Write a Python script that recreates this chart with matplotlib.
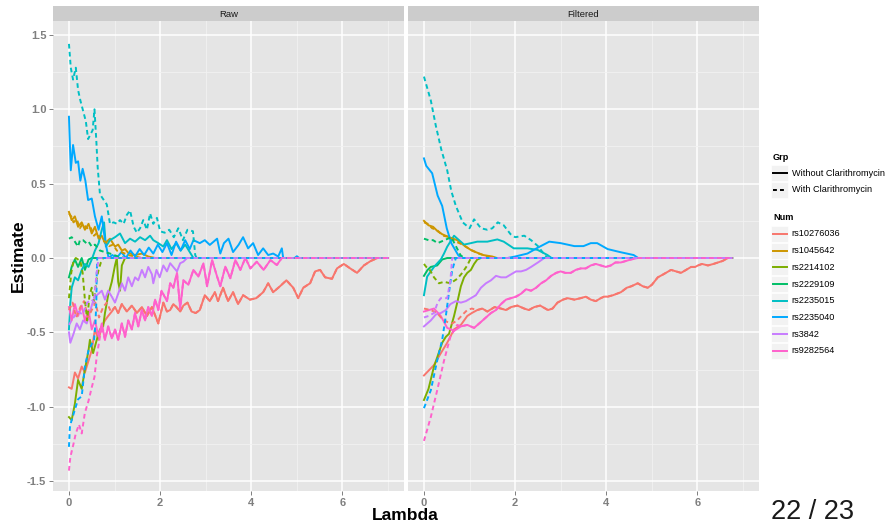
import matplotlib
matplotlib.use("Agg")
import matplotlib.pyplot as plt
from matplotlib.lines import Line2D
from matplotlib.patches import Rectangle

# ---------------- data ----------------
nums = ["rs10276036", "rs1045642", "rs2214102", "rs2229109",
        "rs2235015", "rs2235040", "rs3842", "rs9282564"]
num_colors = ["#F8766D", "#CD9600", "#7CAE00", "#00BE67",
              "#00BFC4", "#00A9FF", "#C77CFF", "#FF61CC"]
groups = ["Without Clarithromycin", "With Clarithromycin"]
panels = ["Raw", "Filtered"]
raw_lambda_max = 7.0
filt_lambda_max = 6.76
y_ticks = [-1.5, -1.0, -0.5, 0.0, 0.5, 1.0, 1.5]
y_tick_labels = ["-1.5", "-1.0", "-0.5", "0.0", "0.5", "1.0", "1.5"]
x_ticks = [0, 2, 4, 6]
x_tick_labels = ["0", "2", "4", "6"]

# ---- Raw panel ----
raw_rs10276036_without = [(0, -0.87), (0.06, -0.88), (0.13, -0.77), (0.2, -0.81), (0.28, -0.73), (0.35, -0.77),
    (0.43, -0.69), (0.5, -0.62), (0.57, -0.48), (0.65, -0.55), (0.72, -0.46), (0.79, -0.42), (0.86, -0.39),
    (0.94, -0.36), (1.01, -0.33), (1.08, -0.37), (1.16, -0.31), (1.27, -0.36), (1.38, -0.32), (1.49, -0.37),
    (1.6, -0.33), (1.71, -0.39), (1.82, -0.33), (1.96, -0.44), (2.07, -0.30), (2.15, -0.36), (2.22, -0.35),
    (2.29, -0.31), (2.36, -0.33), (2.44, -0.36), (2.51, -0.32), (2.6, -0.30), (2.69, -0.36), (2.78, -0.37),
    (2.87, -0.35), (2.98, -0.25), (3.09, -0.29), (3.2, -0.23), (3.27, -0.29), (3.38, -0.20), (3.49, -0.29),
    (3.6, -0.23), (3.71, -0.31), (3.82, -0.25), (3.97, -0.28), (4.11, -0.27), (4.26, -0.23), (4.37, -0.17),
    (4.48, -0.23), (4.63, -0.19), (4.77, -0.15), (4.92, -0.20), (5.03, -0.27), (5.14, -0.20), (5.29, -0.17),
    (5.4, -0.09), (5.51, -0.08), (5.62, -0.13), (5.77, -0.14), (5.88, -0.07), (6.03, -0.04), (6.17, -0.07),
    (6.32, -0.10), (6.47, -0.05), (6.62, -0.02), (6.77, 0.0)]
raw_rs10276036_with_head = [(0, -0.35), (0.08, -0.30), (0.16, -0.40), (0.25, -0.33), (0.33, -0.29), (0.42, -0.40),
    (0.5, -0.35), (0.58, -0.30), (0.66, -0.40), (0.75, -0.33), (0.83, -0.30), (0.92, -0.36), (1.01, -0.33)]
raw_rs1045642_without = [(0, 0.31), (0.06, 0.255), (0.13, 0.28), (0.2, 0.21), (0.28, 0.24), (0.35, 0.19),
    (0.43, 0.23), (0.5, 0.165), (0.57, 0.21), (0.65, 0.13), (0.72, 0.15), (0.79, 0.10), (0.9, 0.13),
    (1.01, 0.077), (1.08, 0.09), (1.16, 0.05), (1.23, 0.06), (1.3, 0.035), (1.45, 0.02), (1.6, 0.03),
    (1.74, 0.01), (1.89, 0.0)]
raw_rs1045642_with = [(0, 0.30), (0.05, 0.28), (0.1, 0.24), (0.17, 0.26), (0.24, 0.20), (0.3, 0.23), (0.4, 0.20),
    (0.47, 0.21), (0.55, 0.15), (0.62, 0.17), (0.7, 0.12), (0.8, 0.11), (0.88, 0.08), (0.97, 0.09),
    (1.05, 0.05), (1.15, 0.04), (1.3, 0.02), (1.45, 0.01), (1.6, 0.0)]
raw_rs2214102_without = [(0, -1.07), (0.06, -1.09), (0.13, -0.98), (0.2, -0.82), (0.28, -0.88), (0.35, -0.75),
    (0.43, -0.62), (0.46, -0.55), (0.53, -0.64), (0.61, -0.55), (0.68, -0.48), (0.75, -0.46), (0.79, -0.37),
    (0.86, -0.25), (0.94, -0.16), (1.01, -0.05), (1.05, 0.0), (1.08, -0.16), (1.12, -0.22), (1.16, -0.05),
    (1.23, 0.0)]
raw_rs2214102_with = [(0, -0.27), (0.05, -0.10), (0.1, -0.02), (0.15, 0.0), (0.25, -0.02), (0.3, -0.10),
    (0.35, -0.28), (0.4, -0.42), (0.45, -0.25), (0.5, -0.20), (0.55, -0.30), (0.6, -0.15), (0.65, -0.08),
    (0.7, -0.03), (0.75, 0.0)]
raw_rs2229109_without = [(0, -0.13), (0.06, -0.06), (0.13, -0.01), (0.2, -0.06), (0.28, 0.0), (0.35, -0.08),
    (0.43, -0.01), (0.5, 0.0)]
raw_rs2229109_with = [(0, 0.13), (0.06, 0.14), (0.13, 0.11), (0.2, 0.077), (0.24, 0.12), (0.31, 0.12),
    (0.38, 0.10), (0.43, 0.11), (0.5, 0.077), (0.57, 0.09), (0.68, 0.05), (0.79, 0.04), (0.9, 0.03),
    (1.08, 0.01), (1.23, 0.0)]
raw_rs2235015_without = [(0, -0.48), (0.03, -0.30), (0.06, -0.20), (0.13, -0.13), (0.2, -0.15), (0.28, -0.08),
    (0.35, -0.04), (0.43, -0.06), (0.5, -0.01), (0.57, 0.05), (0.65, 0.10), (0.72, 0.19), (0.77, 0.24),
    (0.81, 0.077), (0.9, 0.12), (1.01, 0.14), (1.12, 0.165), (1.23, 0.10), (1.34, 0.13), (1.45, 0.11),
    (1.56, 0.14), (1.67, 0.12), (1.78, 0.15), (1.85, 0.12), (1.96, 0.10), (2.07, 0.077), (2.15, 0.12),
    (2.25, 0.06), (2.35, 0.10), (2.45, 0.05), (2.55, 0.09), (2.65, 0.04), (2.73, 0.0)]
raw_rs2235015_with = [(0, 1.44), (0.04, 1.28), (0.09, 1.20), (0.15, 1.28), (0.2, 1.13), (0.25, 1.06),
    (0.31, 0.99), (0.37, 0.92), (0.42, 0.80), (0.47, 0.83), (0.52, 0.86), (0.56, 1.0), (0.6, 0.79),
    (0.63, 0.61), (0.68, 0.43), (0.72, 0.41), (0.83, 0.36), (0.9, 0.23), (0.98, 0.24), (1.05, 0.23),
    (1.12, 0.255), (1.2, 0.23), (1.27, 0.29), (1.34, 0.32), (1.42, 0.21), (1.49, 0.17), (1.56, 0.20),
    (1.63, 0.255), (1.71, 0.19), (1.78, 0.30), (1.85, 0.23), (1.93, 0.27), (2.0, 0.18), (2.1, 0.17),
    (2.2, 0.19), (2.3, 0.14), (2.4, 0.20), (2.5, 0.12), (2.6, 0.19), (2.72, 0.18), (2.77, 0.02), (2.8, 0.0)]
raw_rs2235040_without = [(0, 0.95), (0.04, 0.59), (0.09, 0.76), (0.15, 0.64), (0.2, 0.65), (0.25, 0.52),
    (0.3, 0.60), (0.36, 0.52), (0.42, 0.39), (0.5, 0.40), (0.57, 0.28), (0.65, 0.19), (0.72, 0.28),
    (0.79, 0.12), (0.87, 0.0), (0.95, 0.02), (1.05, 0.0), (1.15, 0.04), (1.25, 0.0), (1.35, 0.05),
    (1.45, 0.01), (1.55, 0.06), (1.65, 0.02), (1.75, 0.07), (1.85, 0.03), (1.95, 0.09), (2.05, 0.04),
    (2.15, 0.10), (2.25, 0.02), (2.35, 0.11), (2.45, 0.05), (2.55, 0.12), (2.65, 0.06), (2.73, 0.12),
    (2.87, 0.10), (2.98, 0.12), (3.09, 0.088), (3.25, 0.13), (3.32, 0.03), (3.4, 0.10), (3.5, 0.13),
    (3.6, 0.04), (3.72, 0.088), (3.82, 0.14), (3.93, 0.065), (4.04, 0.10), (4.15, 0.02), (4.26, 0.065),
    (4.37, 0.02), (4.48, 0.03), (4.59, 0.01), (4.67, 0.065), (4.7, 0.0), (4.95, 0.0), (5.0, 0.012), (5.05, 0.0)]
raw_rs2235040_with = [(0, -1.27), (0.02, -1.14), (0.05, -1.10), (0.1, -1.05), (0.2, -0.95), (0.28, -0.93),
    (0.35, -0.73), (0.43, -0.62), (0.5, -0.58), (0.55, -0.55), (0.58, -0.45), (0.6, -0.30), (0.61, -0.10),
    (0.62, 0.0)]
raw_rs3842_without = [(0, -0.50), (0.03, -0.57), (0.1, -0.51), (0.17, -0.44), (0.24, -0.48), (0.31, -0.42),
    (0.39, -0.44), (0.46, -0.36), (0.52, -0.30), (0.57, -0.26), (0.65, -0.24), (0.72, -0.22), (0.79, -0.28),
    (0.86, -0.22), (0.94, -0.26), (1.01, -0.30), (1.08, -0.24), (1.16, -0.17), (1.23, -0.22), (1.3, -0.13),
    (1.38, -0.19), (1.45, -0.13), (1.52, -0.15), (1.6, -0.08), (1.67, -0.13), (1.74, -0.06), (1.82, -0.11),
    (1.85, -0.17), (1.92, -0.08), (1.99, -0.13), (2.07, -0.05), (2.15, -0.09), (2.22, -0.035), (2.37, -0.09),
    (2.44, -0.035), (2.51, -0.025), (2.59, 0.0)]
raw_rs3842_with = [(0, -0.45), (0.1, -0.40), (0.2, -0.36), (0.3, -0.38), (0.4, -0.30), (0.5, -0.28),
    (0.55, -0.30), (0.6, -0.12), (0.65, 0.0)]
raw_rs9282564_without = [(0, -0.33), (0.06, -0.42), (0.13, -0.31), (0.2, -0.39), (0.28, -0.32), (0.35, -0.42),
    (0.43, -0.35), (0.5, -0.48), (0.57, -0.42), (0.65, -0.53), (0.72, -0.44), (0.79, -0.55), (0.86, -0.46),
    (0.94, -0.54), (1.01, -0.48), (1.08, -0.55), (1.16, -0.44), (1.23, -0.53), (1.3, -0.42), (1.38, -0.48),
    (1.45, -0.37), (1.52, -0.46), (1.6, -0.35), (1.67, -0.42), (1.74, -0.33), (1.82, -0.39), (1.89, -0.28),
    (1.96, -0.35), (2.03, -0.22), (2.15, -0.29), (2.22, -0.17), (2.29, -0.20), (2.37, -0.10), (2.44, -0.34),
    (2.51, -0.15), (2.62, -0.18), (2.73, -0.08), (2.84, -0.125), (2.95, -0.036), (3.03, -0.19), (3.14, -0.014),
    (3.25, -0.125), (3.32, -0.19), (3.43, -0.058), (3.54, -0.136), (3.65, -0.014), (3.76, -0.08), (3.87, 0.0),
    (3.98, -0.07), (4.12, -0.025), (4.27, -0.08), (4.42, -0.014), (4.56, -0.047), (4.67, 0.0)]
raw_rs9282564_with_head = [(0, -1.43), (0.03, -1.34), (0.1, -1.25), (0.15, -1.18), (0.22, -1.12), (0.28, -1.18),
    (0.35, -1.04), (0.43, -0.96), (0.5, -0.87), (0.56, -0.80), (0.61, -0.66), (0.68, -0.53), (0.72, -0.46)]

# ---- Filtered panel ----
filt_rs10276036_without = [(0, -0.79), (0.22, -0.72), (0.37, -0.64), (0.51, -0.57), (0.66, -0.48), (0.81, -0.45),
    (0.95, -0.39), (1.05, -0.37), (1.17, -0.35), (1.28, -0.34), (1.39, -0.36), (1.55, -0.33), (1.69, -0.34),
    (1.8, -0.35), (1.91, -0.33), (2.05, -0.32), (2.2, -0.34), (2.3, -0.35), (2.42, -0.33), (2.55, -0.32),
    (2.72, -0.35), (2.82, -0.34), (2.93, -0.30), (3.05, -0.28), (3.15, -0.27), (3.3, -0.28), (3.44, -0.27),
    (3.55, -0.26), (3.66, -0.28), (3.77, -0.29), (3.88, -0.27), (3.95, -0.26), (4.03, -0.26), (4.15, -0.25),
    (4.32, -0.23), (4.45, -0.20), (4.55, -0.19), (4.69, -0.17), (4.8, -0.19), (4.91, -0.20), (5.0, -0.18),
    (5.13, -0.13), (5.25, -0.11), (5.42, -0.08), (5.53, -0.09), (5.64, -0.10), (5.75, -0.08), (5.86, -0.06),
    (5.95, -0.06), (6.01, -0.05), (6.1, -0.04), (6.23, -0.05), (6.35, -0.04), (6.45, -0.03), (6.55, -0.02),
    (6.67, 0.0)]
filt_rs10276036_with_head = [(0, -0.34), (0.15, -0.35), (0.29, -0.37), (0.4, -0.41), (0.51, -0.43), (0.62, -0.44),
    (0.73, -0.42), (0.85, -0.38), (0.95, -0.35), (1.05, -0.34), (1.17, -0.35)]
filt_rs1045642_without = [(0, 0.25), (0.1, 0.22), (0.2, 0.21), (0.3, 0.18), (0.4, 0.16), (0.55, 0.14),
    (0.73, 0.12), (0.9, 0.08), (1.05, 0.05), (1.3, 0.02), (1.5, 0.01), (1.6, 0.0)]
filt_rs1045642_with = [(0, 0.24), (0.08, 0.23), (0.18, 0.20), (0.28, 0.19), (0.42, 0.15), (0.58, 0.14),
    (0.7, 0.11), (0.85, 0.09), (1.0, 0.06), (1.2, 0.03), (1.4, 0.01), (1.55, 0.0)]
filt_rs2214102_without = [(0, -0.955), (0.1, -0.88), (0.22, -0.73), (0.3, -0.66), (0.4, -0.57), (0.48, -0.53),
    (0.55, -0.51), (0.66, -0.39), (0.73, -0.30), (0.81, -0.19), (0.88, -0.13), (0.95, -0.10), (1.03, -0.08),
    (1.1, -0.04), (1.17, -0.01), (1.25, 0.0)]
filt_rs2214102_with = [(0, -0.04), (0.05, -0.06), (0.11, -0.07), (0.22, -0.13), (0.33, -0.17), (0.44, -0.16),
    (0.58, -0.17), (0.73, -0.14), (0.84, -0.10), (0.95, -0.05), (1.03, 0.0)]
filt_rs2229109_without = [(0, -0.12), (0.08, -0.08), (0.15, -0.06), (0.29, -0.05), (0.4, -0.01), (0.51, 0.0)]
filt_rs2229109_with = [(0, 0.13), (0.1, 0.12), (0.2, 0.12), (0.3, 0.10), (0.45, 0.12), (0.6, 0.14),
    (0.7, 0.08), (0.8, 0.02), (0.88, 0.0)]
filt_rs2235015_without = [(0, -0.25), (0.07, -0.125), (0.22, -0.06), (0.37, -0.01), (0.44, 0.03), (0.51, 0.076),
    (0.66, 0.15), (0.77, 0.12), (0.88, 0.09), (1.03, 0.10), (1.17, 0.11), (1.39, 0.11), (1.61, 0.125),
    (1.75, 0.11), (1.97, 0.065), (2.27, 0.065), (2.49, 0.055), (2.71, 0.02), (2.8, 0.0)]
filt_rs2235015_with = [(0, 1.22), (0.15, 1.06), (0.26, 0.89), (0.38, 0.73), (0.51, 0.59), (0.6, 0.45),
    (0.7, 0.35), (0.85, 0.24), (1.0, 0.20), (1.1, 0.26), (1.25, 0.20), (1.39, 0.19), (1.5, 0.20), (1.62, 0.24),
    (1.75, 0.22), (1.9, 0.16), (2.0, 0.14), (2.2, 0.15), (2.35, 0.12), (2.5, 0.08), (2.65, 0.02), (2.72, 0.0)]
filt_rs2235040_without = [(0, 0.67), (0.05, 0.62), (0.18, 0.57), (0.3, 0.42), (0.4, 0.35), (0.5, 0.20),
    (0.6, 0.10), (0.75, 0.02), (0.82, 0.0), (1.5, 0.0), (1.83, 0.0), (2.0, 0.01), (2.27, 0.03), (2.5, 0.07),
    (2.75, 0.11), (3.0, 0.10), (3.3, 0.08), (3.5, 0.08), (3.66, 0.10), (3.8, 0.10), (4.03, 0.06), (4.3, 0.04),
    (4.6, 0.02), (4.7, 0.0)]
filt_rs2235040_with = [(0, -1.01), (0.15, -0.89), (0.29, -0.69), (0.4, -0.55), (0.48, -0.39), (0.55, -0.23),
    (0.62, -0.08), (0.7, 0.0)]
filt_rs3842_without = [(0, -0.46), (0.15, -0.42), (0.26, -0.38), (0.37, -0.37), (0.48, -0.35), (0.58, -0.31),
    (0.7, -0.29), (0.81, -0.30), (0.92, -0.29), (1.03, -0.27), (1.14, -0.25), (1.25, -0.20), (1.36, -0.17),
    (1.47, -0.15), (1.58, -0.12), (1.69, -0.13), (1.8, -0.13), (1.91, -0.11), (2.02, -0.09), (2.13, -0.09),
    (2.24, -0.08), (2.35, -0.06), (2.5, -0.03), (2.64, 0.0)]
filt_rs3842_with = [(0, -0.40), (0.1, -0.39), (0.22, -0.37), (0.3, -0.30), (0.37, -0.27), (0.51, -0.27),
    (0.58, -0.15), (0.62, 0.0)]
filt_rs9282564_without = [(0, -0.36), (0.22, -0.34), (0.37, -0.39), (0.51, -0.47), (0.66, -0.49), (0.81, -0.46),
    (0.95, -0.45), (1.1, -0.47), (1.25, -0.43), (1.47, -0.37), (1.58, -0.35), (1.69, -0.31), (1.8, -0.28),
    (1.91, -0.27), (2.02, -0.26), (2.13, -0.24), (2.24, -0.21), (2.35, -0.22), (2.46, -0.20), (2.57, -0.17),
    (2.68, -0.15), (2.79, -0.12), (2.9, -0.10), (3.0, -0.09), (3.1, -0.10), (3.22, -0.10), (3.33, -0.08),
    (3.44, -0.07), (3.55, -0.07), (3.66, -0.05), (3.77, -0.04), (3.88, -0.05), (3.99, -0.06), (4.1, -0.05),
    (4.2, -0.03), (4.32, -0.03), (4.43, -0.02), (4.54, -0.01), (4.69, 0.0)]
filt_rs9282564_with_head = [(0, -1.23), (0.15, -1.07), (0.29, -0.89), (0.44, -0.69), (0.58, -0.53),
    (0.73, -0.45), (0.81, -0.46)]


def join(head, tail):
    return head + [p for p in tail if p[0] > head[-1][0]]


raw_series = {
    ("Without Clarithromycin", "rs10276036"): raw_rs10276036_without,
    ("Without Clarithromycin", "rs1045642"): raw_rs1045642_without,
    ("Without Clarithromycin", "rs2214102"): raw_rs2214102_without,
    ("Without Clarithromycin", "rs2229109"): raw_rs2229109_without,
    ("Without Clarithromycin", "rs2235015"): raw_rs2235015_without,
    ("Without Clarithromycin", "rs2235040"): raw_rs2235040_without,
    ("Without Clarithromycin", "rs3842"): raw_rs3842_without,
    ("Without Clarithromycin", "rs9282564"): raw_rs9282564_without,
    ("With Clarithromycin", "rs10276036"): join(raw_rs10276036_with_head, raw_rs10276036_without),
    ("With Clarithromycin", "rs1045642"): raw_rs1045642_with,
    ("With Clarithromycin", "rs2214102"): raw_rs2214102_with,
    ("With Clarithromycin", "rs2229109"): raw_rs2229109_with,
    ("With Clarithromycin", "rs2235015"): raw_rs2235015_with,
    ("With Clarithromycin", "rs2235040"): raw_rs2235040_with,
    ("With Clarithromycin", "rs3842"): raw_rs3842_with,
    ("With Clarithromycin", "rs9282564"): join(raw_rs9282564_with_head, raw_rs9282564_without),
}
filt_series = {
    ("Without Clarithromycin", "rs10276036"): filt_rs10276036_without,
    ("Without Clarithromycin", "rs1045642"): filt_rs1045642_without,
    ("Without Clarithromycin", "rs2214102"): filt_rs2214102_without,
    ("Without Clarithromycin", "rs2229109"): filt_rs2229109_without,
    ("Without Clarithromycin", "rs2235015"): filt_rs2235015_without,
    ("Without Clarithromycin", "rs2235040"): filt_rs2235040_without,
    ("Without Clarithromycin", "rs3842"): filt_rs3842_without,
    ("Without Clarithromycin", "rs9282564"): filt_rs9282564_without,
    ("With Clarithromycin", "rs10276036"): join(filt_rs10276036_with_head, filt_rs10276036_without),
    ("With Clarithromycin", "rs1045642"): filt_rs1045642_with,
    ("With Clarithromycin", "rs2214102"): filt_rs2214102_with,
    ("With Clarithromycin", "rs2229109"): filt_rs2229109_with,
    ("With Clarithromycin", "rs2235015"): filt_rs2235015_with,
    ("With Clarithromycin", "rs2235040"): filt_rs2235040_with,
    ("With Clarithromycin", "rs3842"): filt_rs3842_with,
    ("With Clarithromycin", "rs9282564"): join(filt_rs9282564_with_head, filt_rs9282564_without),
}

# ---------------- figure ----------------
W, H = 886, 524
fig = plt.figure(figsize=(W / 100, H / 100), dpi=100)
fig.patch.set_facecolor("white")
SANS = ["Liberation Sans", "DejaVu Sans"]


def fx(px):
    return px / W


def fy(py):
    return 1 - py / H


panel_top, panel_bot = 21, 491
panel_lefts = [53, 408]
panel_w = 351
LW = 1.4
DASH = (2.4, 1.7)
TICK_COLOR = "#7F7F7F"

for pi, (pname, series, lmax) in enumerate(zip(panels, [raw_series, filt_series],
                                               [raw_lambda_max, filt_lambda_max])):
    left = panel_lefts[pi]
    ax = fig.add_axes([fx(left), fy(panel_bot), panel_w / W, (panel_bot - panel_top) / H])
    ax.set_facecolor("#E5E5E5")
    for s in ax.spines.values():
        s.set_visible(False)
    ax.set_xlim(-0.35, 7.35)
    ax.set_ylim(-1.567, 1.594)
    ax.set_xticks(x_ticks)
    ax.set_xticklabels(x_tick_labels)
    ax.set_xticks([1, 3, 5, 7], minor=True)
    ax.set_yticks(y_ticks)
    ax.set_yticklabels(y_tick_labels)
    ax.set_yticks([-1.25, -0.75, -0.25, 0.25, 0.75, 1.25], minor=True)
    ax.grid(which="minor", color="#F2F2F2", lw=0.6)
    ax.grid(which="major", color="white", lw=1.1)
    ax.set_axisbelow(True)
    ax.tick_params(which="minor", length=0)
    ax.tick_params(which="major", length=2.8, width=0.7, color=TICK_COLOR,
                   labelcolor=TICK_COLOR, labelsize=8, pad=2)
    for lab in ax.get_xticklabels() + ax.get_yticklabels():
        lab.set_fontweight("bold")
        lab.set_family(SANS)
    if pi == 1:
        ax.tick_params(axis="y", left=False, labelleft=False)

    for grp in groups:
        for num, col in zip(nums, num_colors):
            pts = series[(grp, num)]
            if pts[-1][0] < lmax:
                pts = pts + [(lmax, 0.0)]
            xs = [p[0] for p in pts]
            ys = [p[1] for p in pts]
            if grp == groups[0]:
                ax.plot(xs, ys, color=col, lw=LW, solid_joinstyle="round")
            else:
                ax.plot(xs, ys, color=col, lw=LW, linestyle="--", dashes=DASH)

    # strip
    sax = fig.add_axes([fx(left), fy(panel_top), panel_w / W, 15 / H])
    sax.set_facecolor("#CCCCCC")
    sax.set_xticks([])
    sax.set_yticks([])
    for s in sax.spines.values():
        s.set_visible(False)
    sax.text(0.5, 0.45, pname, ha="center", va="center", fontsize=6.8, color="#1A1A1A",
             family=SANS, transform=sax.transAxes)

# axis titles
fig.text(fx(405.5), fy(515), "Lambda", ha="center", va="center", fontsize=12.5, fontweight="bold",
         family=SANS)
fig.text(fx(18), fy(256), "Estimate", ha="center", va="center", fontsize=12.5, fontweight="bold",
         rotation=90, family=SANS)


# legend
def key_box(y):
    fig.patches.append(Rectangle((fx(771), fy(y + 8)), 17 / W, 16 / H, transform=fig.transFigure,
                                 facecolor="#F2F2F2", edgecolor="white", lw=0.5))


fig.text(fx(773), fy(158), "Grp", fontsize=6.6, fontweight="bold", va="center", family=SANS)
for i, grp in enumerate(groups):
    y = 173 + i * 17
    key_box(y)
    ln = Line2D([fx(773), fx(787)], [fy(y), fy(y)], transform=fig.transFigure, color="black", lw=1.4)
    if i == 1:
        ln.set_linestyle("--")
        ln.set_dashes((2.0, 1.6))
    fig.lines.append(ln)
    fig.text(fx(791.5), fy(y), grp, fontsize=6.6, va="center", family=SANS)

fig.text(fx(773), fy(217), "Num", fontsize=6.6, fontweight="bold", va="center", family=SANS)
for i, (num, col) in enumerate(zip(nums, num_colors)):
    y = 234 + i * 16.67
    key_box(y)
    fig.lines.append(Line2D([fx(773), fx(787)], [fy(y), fy(y)], transform=fig.transFigure,
                            color=col, lw=1.4))
    fig.text(fx(791.5), fy(y), num, fontsize=6.6, va="center", family=SANS)

# slide counter
fig.text(fx(771), fy(519), "22 / 23", fontsize=19.5, family=SANS, va="baseline",
         color="#1A1A1A")

fig.savefig("out.png", dpi=100)
